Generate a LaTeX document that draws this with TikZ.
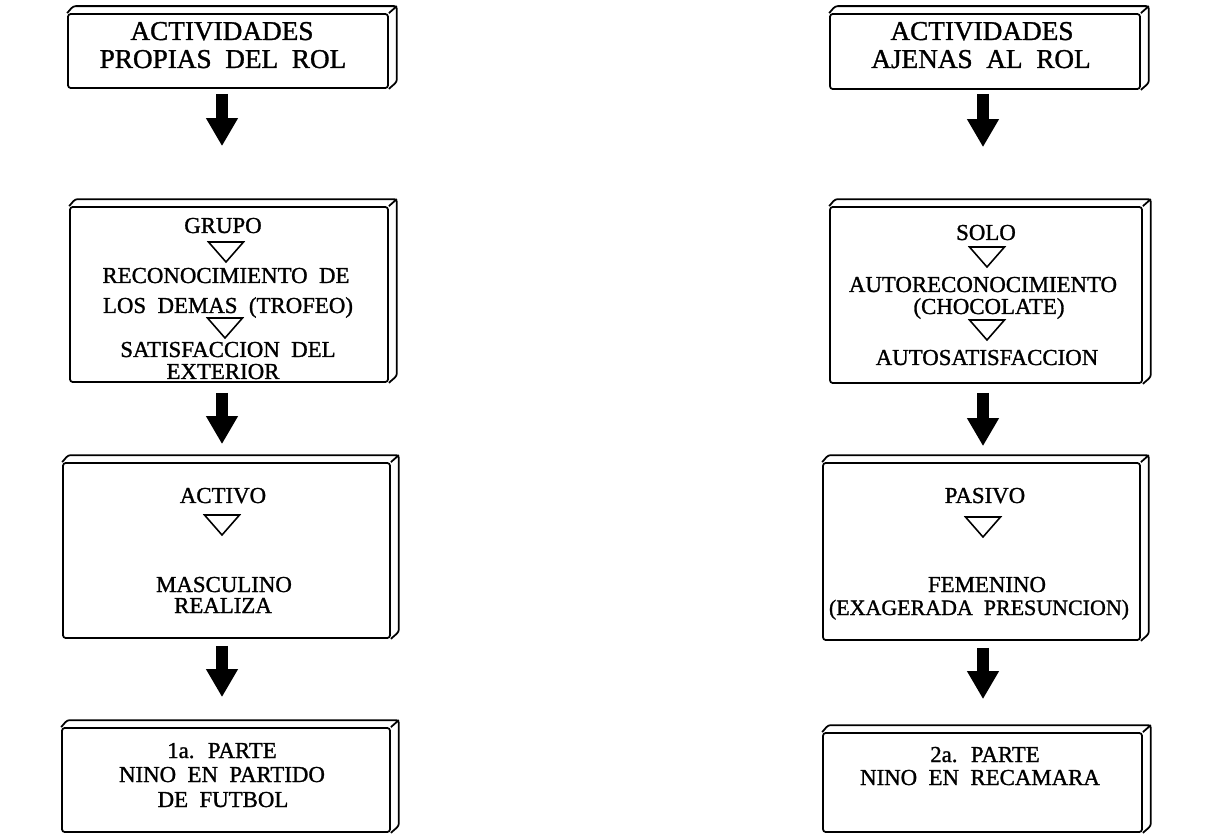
\documentclass[tikz,border=0pt]{standalone}
\usepackage{fontspec}
\setmainfont{Liberation Serif}
\newfontfamily\bodyface[FakeBold=1.2, WordSpace=1.1]{Liberation Serif}
\newfontfamily\titleface[FakeBold=1.2, WordSpace=2]{Liberation Serif}
\usetikzlibrary{arrows.meta}

\newcommand{\boxfont}{\bodyface\fontsize{13}{15}\selectfont}
\newcommand{\headfont}{\titleface\fontsize{15.5}{18}\selectfont}

\tikzset{
  slab/.style={draw, line width=1pt, rounded corners=1.5pt, inner sep=0pt},
  slabedge/.style={line width=1pt, rounded corners=1.5pt},
  lbl/.style={font=\boxfont, anchor=base, inner sep=0pt, text height=9pt, text depth=0pt},
  head/.style={lbl, font=\headfont, text height=10.5pt},
  fatarrow/.style={line width=0.24cm, -{Triangle[length=0.56cm, width=0.6cm]}},
  tri/.pic={\draw[line width=0.9pt] (-17.5,0) -- (17.5,0) -- (0,20) -- cycle;}
}

\begin{document}
\begin{tikzpicture}[x=0.02cm, y=-0.02cm]
  \useasboundingbox (0,0) rectangle (1211,834);

  % boxes, left column
  \node[slab, minimum width=6.4cm, minimum height=1.48cm] (propias) at (228,51) {};
  \node[slab, minimum width=6.36cm, minimum height=3.5cm] (grupo) at (229,294.5) {};
  \node[slab, minimum width=6.54cm, minimum height=3.5cm] (activo) at (226.5,550.5) {};
  \node[slab, minimum width=6.56cm, minimum height=2.08cm] (parte1) at (226,780) {};
  % boxes, right column
  \node[slab, minimum width=6.2cm, minimum height=1.5cm] (ajenas) at (985,51.5) {};
  \node[slab, minimum width=6.24cm, minimum height=3.52cm] (solo) at (986,295) {};
  \node[slab, minimum width=6.34cm, minimum height=3.54cm] (pasivo) at (981.5,551.5) {};
  \node[slab, minimum width=6.38cm, minimum height=1.98cm] (parte2) at (982.5,782.5) {};

  % top and side faces
  \foreach \n in {propias,grupo,activo,parte1,ajenas,solo,pasivo,parte2}
    \draw[slabedge] (\n.north west) -- ++(6,-7) -- ([shift={(8,-7)}]\n.north east)
      -- ([shift={(8,-7)}]\n.south east) -- (\n.south east)
      (\n.north east) -- ++(8,-7);

  % texts, left
  \node[head] (propias1) at (222,40) {ACTIVIDADES};
  \node[head] (propias2) at (223,68) {PROPIAS DEL ROL};
  \node[lbl] (grupo1) at (223,233) {GRUPO};
  \node[lbl] (grupo2) at (226,283) {RECONOCIMIENTO DE};
  \node[lbl] (grupo3) at (228,313) {LOS DEMAS (TROFEO)};
  \node[lbl] (grupo4) at (228,357) {SATISFACCION DEL};
  \node[lbl] (grupo5) at (223,379) {EXTERIOR};
  \node[lbl] (activo1) at (223,503) {ACTIVO};
  \node[lbl] (activo2) at (224,592) {MASCULINO};
  \node[lbl] (activo3) at (223,613) {REALIZA};
  \node[lbl] (parte11) at (222,758) {1a. PARTE};
  \node[lbl] (parte12) at (222,782) {NINO EN PARTIDO};
  \node[lbl] (parte13) at (223,807) {DE FUTBOL};
  \pic at (226,242) {tri};
  \pic at (225,318) {tri};
  \pic at (222,515) {tri};

  % texts, right
  \node[head] (ajenas1) at (982,40) {ACTIVIDADES};
  \node[head] (ajenas2) at (981,68) {AJENAS AL ROL};
  \node[lbl] (solo1) at (986,240) {SOLO};
  \node[lbl] (solo2) at (983,292) {AUTORECONOCIMIENTO};
  \node[lbl] (solo3) at (989,314) {(CHOCOLATE)};
  \node[lbl] (solo4) at (987,365) {AUTOSATISFACCION};
  \node[lbl] (pasivo1) at (985,503) {PASIVO};
  \node[lbl] (pasivo2) at (987,592) {FEMENINO};
  \node[lbl, font=\bodyface\fontsize{12.5}{15}\selectfont] (pasivo3) at (979,615) {(EXAGERADA PRESUNCION)};
  \node[lbl] (parte21) at (985,762) {2a. PARTE};
  \node[lbl] (parte22) at (980,785) {NINO EN RECAMARA};
  \pic at (987,247) {tri};
  \pic at (987,320) {tri};
  \pic at (983,517) {tri};

  % arrows
  \coordinate (lcol) at (222,0);
  \coordinate (rcol) at (983,0);
  \foreach \a/\b/\c/\s/\e in {propias/grupo/lcol/0.1/1.2, grupo/activo/lcol/0.2/0.36,
      activo/parte1/lcol/0.14/0.6, ajenas/solo/rcol/0.08/1.18,
      solo/pasivo/rcol/0.18/0.32, pasivo/parte2/rcol/0.14/0.66}
    \draw[fatarrow, shorten <=\s cm, shorten >=\e cm] (\a.south -| \c) -- (\b.north -| \c);
\end{tikzpicture}
\end{document}
